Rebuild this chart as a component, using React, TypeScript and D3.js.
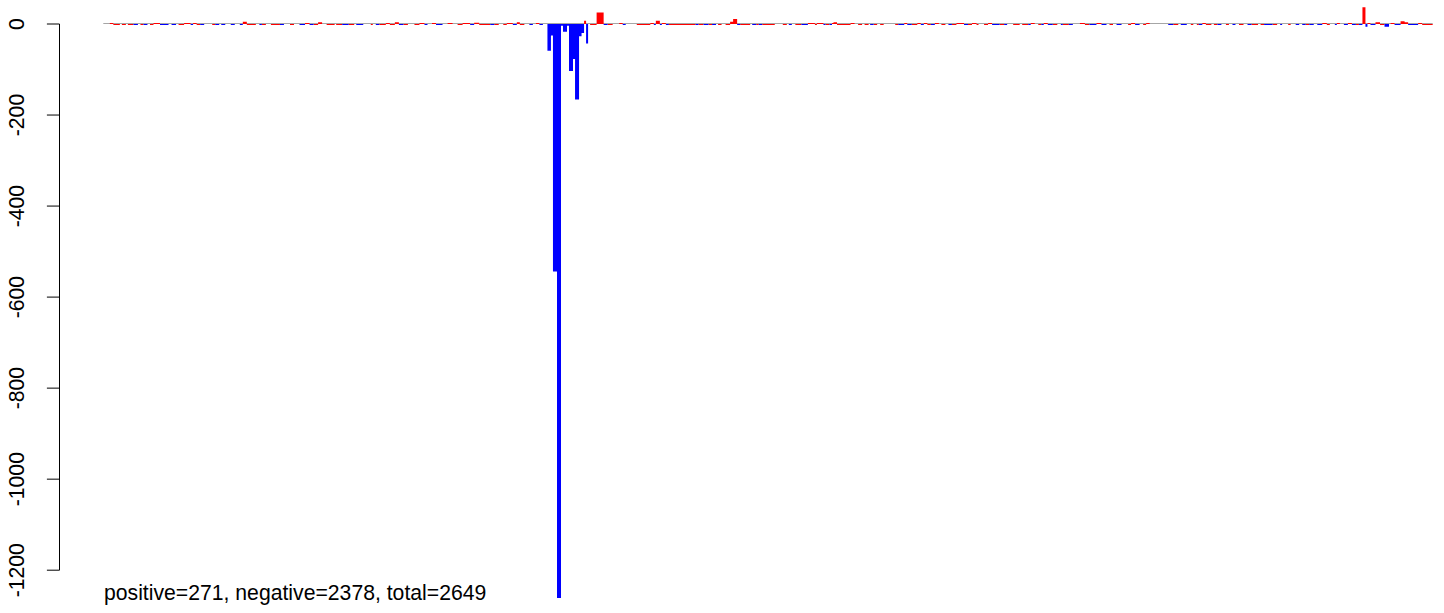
import React from "react";
import * as d3 from "d3";

// ---- data ----
const N_BARS = 2649;
const yTicks = [0, -200, -400, -600, -800, -1000, -1200];
const positiveCount = 271;
const negativeCount = 2378;
const totalCount = 2649;

// runs: [startBar, value, colour] — each run lasts until the next start
const runs: [number, number, string][] = [
  [0,0,'g'],[13,2,'r'],[20,-2,'r'],[33,0,'g'],[37,-2,'r'],[45,0,'g'],[49,-2,'r'],[60,-2,'b'],[69,0,'g'],[74,-2,'r'],
  [80,-2,'b'],[88,0,'g'],[93,-2,'r'],[100,2,'r'],[113,-2,'b'],[130,0,'g'],[136,-2,'b'],[145,0,'g'],[150,-2,'r'],[161,2,'r'],
  [174,-2,'b'],[179,2,'r'],[186,-2,'r'],[193,-2,'b'],[201,0,'g'],[217,-2,'r'],[223,-2,'b'],[231,0,'g'],[235,-2,'b'],[243,0,'g'],
  [254,-2,'b'],[262,0,'g'],[272,-2,'b'],[278,5,'r'],[286,-2,'r'],[304,0,'g'],[311,-2,'b'],[316,-2,'r'],[324,0,'g'],[334,-2,'r'],
  [352,-2,'b'],[360,0,'g'],[372,-2,'r'],[380,0,'g'],[391,-2,'b'],[402,2,'r'],[411,-2,'b'],[419,-2,'r'],[428,4,'r'],[436,0,'g'],
  [445,-2,'r'],[461,0,'g'],[464,-2,'r'],[476,-2,'b'],[489,-2,'r'],[500,0,'g'],[504,-2,'b'],[518,0,'g'],
  [533,-2,'r'],[537,0,'g'],[543,-2,'b'],[550,-2,'r'],[563,2,'r'],[571,-2,'r'],[581,4,'r'],[589,-2,'b'],[598,-2,'r'],[607,0,'g'],
  [620,-2,'r'],[630,2,'r'],[640,-2,'b'],[646,0,'g'],[655,2,'r'],[663,-2,'b'],[676,0,'g'],[686,2,'r'],[696,0,'g'],[706,-2,'r'],
  [716,2,'r'],[731,-2,'b'],[739,3,'r'],[749,-2,'r'],[771,-2,'b'],[779,-2,'r'],[788,0,'g'],[797,-2,'r'],[804,2,'r'],[816,-2,'b'],
  [824,4,'r'],[830,-2,'r'],[839,0,'g'],[849,-2,'b'],[856,0,'g'],[862,2,'r'],[869,-2,'b'],[876,0,'g'],
  [885,-59,'b'],[892,-25,'b'],[896,-544,'b'],[904,-1261,'b'],[912,-4,'b'],[916,-17,'b'],[924,-4,'b'],[928,-103,'b'],
  [936,-77,'b'],[940,-166,'b'],[948,-27,'b'],[953,-20,'b'],[958,7,'r'],[962,-43,'b'],[966,0,'g'],[970,-2,'r'],[983,25,'r'],
  [997,-2,'b'],[1005,-2,'r'],[1015,0,'g'],[1028,2,'r'],[1035,-2,'b'],[1041,0,'g'],
  [1063,-2,'r'],[1090,2,'r'],[1097,-2,'b'],[1101,7,'r'],[1109,-2,'b'],[1113,2,'r'],[1121,-2,'b'],[1127,-2,'r'],[1180,-2,'b'],
  [1186,-2,'r'],[1196,-2,'b'],[1206,-2,'r'],[1213,-2,'b'],[1221,0,'g'],[1225,-2,'r'],[1232,0,'g'],[1240,-2,'r'],[1249,5,'r'],
  [1255,11,'r'],[1263,-2,'b'],[1269,-2,'r'],[1289,0,'g'],[1293,-2,'b'],[1301,-2,'r'],[1306,-2,'b'],[1313,-2,'r'],[1338,0,'g'],
  [1354,-2,'r'],[1362,0,'g'],[1366,-2,'b'],[1372,0,'g'],[1379,-2,'r'],[1391,-2,'b'],[1404,2,'r'],[1418,-2,'r'],[1422,2,'r'],
  [1435,-2,'b'],[1439,-2,'r'],[1447,-2,'b'],[1452,2,'r'],[1455,4,'r'],[1462,-2,'r'],[1489,2,'r'],[1497,0,'g'],[1504,-2,'r'],
  [1512,0,'g'],[1517,-2,'r'],[1525,0,'g'],[1528,-2,'b'],[1535,-2,'r'],[1542,0,'g'],[1548,-2,'r'],[1555,0,'g'],[1578,-2,'r'],
  [1584,-2,'b'],[1596,2,'r'],[1602,-2,'b'],[1611,-2,'r'],[1622,2,'r'],[1629,-2,'b'],[1635,2,'r'],[1642,-2,'r'],[1649,-2,'b'],
  [1657,2,'r'],[1665,0,'g'],[1670,-2,'r'],[1678,0,'g'],[1684,-2,'b'],[1691,-2,'r'],[1700,2,'r'],[1715,-2,'b'],[1723,-2,'r'],
  [1731,2,'r'],[1740,-2,'r'],[1744,0,'g'],[1755,-2,'r'],[1763,2,'r'],[1771,-2,'b'],[1786,-2,'r'],[1795,-2,'b'],[1801,0,'g'],
  [1813,-2,'r'],[1826,0,'g'],[1831,-2,'r'],[1843,-2,'b'],[1848,2,'r'],[1856,0,'g'],[1863,-2,'r'],[1869,-2,'b'],[1874,2,'r'],
  [1882,-2,'b'],[1892,-2,'r'],[1901,0,'g'],[1908,-2,'b'],[1912,-2,'r'],[1924,-2,'b'],[1932,0,'g'],[1946,2,'r'],[1956,-2,'r'],
  [1965,-2,'b'],[1979,2,'r'],[1989,-2,'b'],[1999,0,'g'],[2005,-2,'r'],[2012,0,'g'],[2019,-2,'b'],[2029,0,'g'],[2042,-2,'r'],
  [2048,2,'r'],[2056,-2,'b'],[2065,0,'g'],[2072,-2,'r'],[2078,2,'r'],[2085,0,'g'],
  [2122,-2,'b'],[2132,-2,'r'],[2142,0,'g'],[2147,-2,'b'],[2159,0,'g'],[2167,-2,'r'],[2172,0,'g'],[2179,-2,'r'],[2183,-2,'b'],
  [2190,2,'r'],[2197,-2,'r'],[2208,0,'g'],[2213,-2,'r'],[2220,-2,'b'],[2228,0,'g'],[2237,-2,'r'],[2243,0,'g'],[2250,-2,'b'],
  [2256,0,'g'],[2263,-2,'r'],[2272,0,'g'],[2280,-2,'b'],[2288,-2,'r'],[2301,0,'g'],[2306,-2,'r'],[2313,-2,'b'],[2330,-2,'r'],
  [2339,0,'g'],[2345,-2,'b'],[2349,0,'g'],[2361,-2,'r'],[2366,0,'g'],[2376,-2,'b'],[2383,0,'g'],[2389,-2,'b'],[2396,-2,'r'],
  [2403,-2,'b'],[2412,0,'g'],[2419,-2,'b'],[2429,2,'r'],[2438,-2,'r'],[2444,0,'g'],[2454,-2,'b'],[2458,2,'r'],[2464,0,'g'],
  [2472,-2,'b'],[2480,2,'r'],[2488,-2,'b'],[2496,-2,'r'],[2502,-2,'b'],[2509,37,'r'],[2515,-6,'b'],[2519,2,'r'],[2525,-2,'b'],
  [2535,4,'r'],[2544,-2,'r'],[2553,-6,'b'],[2562,0,'g'],[2565,2,'r'],[2573,-2,'b'],[2585,6,'r'],[2593,4,'r'],[2600,-2,'b'],
  [2620,2,'r'],[2628,-2,'r'],
];

const COLORS: Record<string, string> = { r: "#FF0000", b: "#0000FF" };
const FONT = "'Liberation Sans', Arial, Helvetica, sans-serif";

function expand() {
  const values: number[] = new Array(N_BARS).fill(0);
  const cols: string[] = new Array(N_BARS).fill("g");
  runs.forEach((r, k) => {
    const end = k + 1 < runs.length ? runs[k + 1][0] : N_BARS;
    for (let i = r[0]; i < end; i++) {
      values[i] = r[1];
      cols[i] = r[2];
    }
  });
  return { values, cols };
}

export default function App() {
  const W = 1444, H = 613;
  const { values, cols } = expand();
  const idx = d3.range(N_BARS);
  const x = d3.scaleBand<number>().domain(idx).range([103.3, 1432.7]).paddingInner(0).paddingOuter(0);
  const y = d3.scaleLinear().domain([0, -1200]).range([24, 570.2]);
  const bw = x.bandwidth();

  const paths: Record<string, d3.Path> = { r: d3.path(), b: d3.path() };
  idx.forEach((i) => {
    const v = values[i];
    if (v === 0 || cols[i] === "g") return;
    const y0 = y(0), y1 = y(v);
    paths[cols[i]].rect(x(i)!, Math.min(y0, y1), bw, Math.abs(y1 - y0));
  });

  const axisX = 59.5;
  const tickLen = 12.6;
  const labelX = 24;

  return (
    <svg width={W} height={H} style={{ position: "absolute", left: 0, top: 0, background: "#fff" }}>
      <rect width={W} height={H} fill="#fff" />
      <line x1={x.range()[0]} x2={x.range()[1]} y1={y(0) - 0.5} y2={y(0) - 0.5} stroke="#a6a6a6" strokeWidth={1} />
      <path d={paths.r.toString()} fill={COLORS.r} />
      <path d={paths.b.toString()} fill={COLORS.b} />
      <g stroke="#000" strokeWidth={1} fill="none">
        <line x1={axisX} x2={axisX} y1={y(yTicks[0])} y2={y(yTicks[yTicks.length - 1])} />
        {yTicks.map((t) => (
          <line key={t} x1={axisX - tickLen} x2={axisX} y1={y(t)} y2={y(t)} />
        ))}
      </g>
      <g fontFamily={FONT} fontSize={21.2} fill="#000">
        {yTicks.map((t) => (
          <text key={t} x={labelX} y={y(t)} textAnchor="middle" transform={`rotate(-90, ${labelX}, ${y(t)})`}>
            {String(t)}
          </text>
        ))}
        <text x={104} y={599.5}>
          {`positive=${positiveCount}, negative=${negativeCount}, total=${totalCount}`}
        </text>
      </g>
    </svg>
  );
}
